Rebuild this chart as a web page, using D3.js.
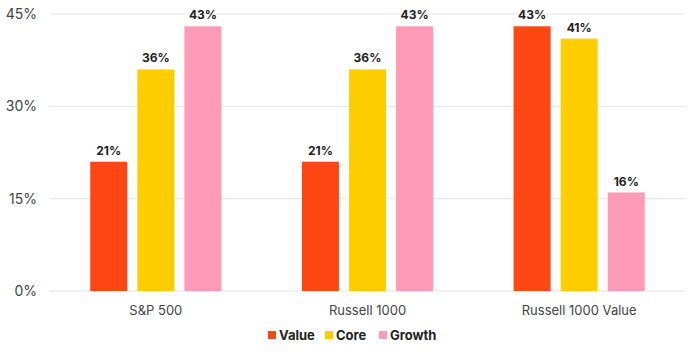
<!DOCTYPE html>
<html>
<head>
<meta charset="utf-8">
<script src="https://cdn.jsdelivr.net/npm/d3@7"></script>
<style>
  body { margin: 0; background: #fff; }
  text { font-family: Inter, "Noto Sans", sans-serif; }
</style>
</head>
<body>
<div class="chart"></div>
<script>
const categories = ["S&P 500", "Russell 1000", "Russell 1000 Value"];
const seriesNames = ["Value", "Core", "Growth"];
const valueShare = [21, 21, 43];
const coreShare = [36, 36, 41];
const growthShare = [43, 43, 16];
const yTicks = [0, 15, 30, 45];
const colors = ["#ff4713", "#ffce00", "#ff9bb8"];

const series = [valueShare, coreShare, growthShare];
const data = categories.map((c, i) => ({
    cat: c,
    vals: seriesNames.map((s, j) => ({ key: s, v: series[j][i] }))
}));

const W = 700, H = 354;
const margin = {top: 14, right: 15, bottom: 63, left: 50};
const width = W - margin.left - margin.right;
const height = H - margin.top - margin.bottom;

const svg = d3.select('.chart').append('svg')
    .attr('width', W)
    .attr('height', H);
const plot = svg.append('g')
    .attr('transform', `translate(${margin.left},${margin.top})`);

const x0 = d3.scaleBand()
    .domain(categories)
    .range([0, width])
    .paddingInner(0.38)
    .paddingOuter(0.19);

const x1 = d3.scaleBand()
    .domain(seriesNames)
    .range([0, x0.bandwidth()])
    .paddingInner(0.213);

const y = d3.scaleLinear()
    .domain([0, 45])
    .range([height, 0]);

const color = d3.scaleOrdinal().domain(seriesNames).range(colors);

// grid
plot.selectAll('line.grid')
    .data(yTicks)
    .enter().append('line')
    .attr('class', 'grid')
    .attr('x1', 0).attr('x2', width)
    .attr('y1', d => y(d)).attr('y2', d => y(d))
    .attr('stroke', '#e4e4e4')
    .attr('stroke-width', 1);

// y labels
plot.selectAll('text.ytick')
    .data(yTicks)
    .enter().append('text')
    .attr('class', 'ytick')
    .attr('x', -13)
    .attr('y', d => y(d))
    .attr('dy', '0.35em')
    .attr('text-anchor', 'end')
    .attr('font-size', '14px')
    .attr('fill', '#444')
    .text(d => d + '%');

const groups = plot.selectAll('g.group')
    .data(data)
    .enter().append('g')
    .attr('class', 'group')
    .attr('transform', d => `translate(${x0(d.cat)},0)`);

groups.selectAll('rect')
    .data(d => d.vals)
    .enter().append('rect')
    .attr('x', d => x1(d.key))
    .attr('width', x1.bandwidth())
    .attr('y', d => y(d.v))
    .attr('height', d => height - y(d.v))
    .attr('fill', d => color(d.key));

groups.selectAll('text.val')
    .data(d => d.vals)
    .enter().append('text')
    .attr('class', 'val')
    .attr('x', d => x1(d.key) + x1.bandwidth() / 2)
    .attr('y', d => y(d.v) - 7)
    .attr('text-anchor', 'middle')
    .attr('font-size', '12px')
    .attr('font-weight', 'bold')
    .attr('fill', '#222')
    .text(d => d.v + '%');

// x labels
plot.selectAll('text.xlab')
    .data(categories)
    .enter().append('text')
    .attr('class', 'xlab')
    .attr('x', d => x0(d) + x0.bandwidth() / 2)
    .attr('y', height + 24)
    .attr('text-anchor', 'middle')
    .attr('font-size', '13px')
    .attr('fill', '#444')
    .text(d => d);

// legend
const legend = svg.append('g').attr('transform', 'translate(268,335)');
const legendX = [0, 57, 111];
seriesNames.forEach((s, i) => {
    const g = legend.append('g').attr('transform', `translate(${legendX[i]},0)`);
    g.append('rect')
        .attr('x', 0).attr('y', -4)
        .attr('width', 8).attr('height', 8)
        .attr('fill', colors[i]);
    g.append('text')
        .attr('x', 11)
        .attr('dy', '0.35em')
        .attr('font-size', '13px')
        .attr('font-weight', 'bold')
        .attr('fill', '#222')
        .text(s);
});
</script>
</body>
</html>
